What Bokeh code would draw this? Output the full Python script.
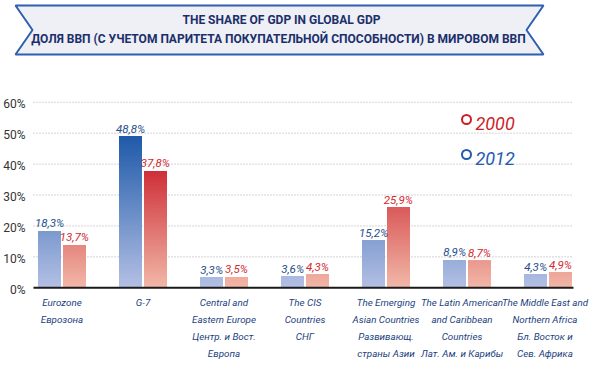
from bokeh.plotting import figure
from bokeh.models import ColumnDataSource, Range1d
from bokeh.core.properties import value
from bokeh.embed import file_html
from bokeh.resources import INLINE

# ---------------- data ----------------
categories = [
    "Eurozone\nЕврозона",
    "G-7",
    "Central and\nEastern Europe\nЦентр. и Вост.\nЕвропа",
    "The CIS\nCountries\nСНГ",
    "The Emerging\nAsian Countries\nРазвивающ.\nстраны Азии",
    "The Latin American\nand Caribbean\nCountries\nЛат. Ам. и Карибы",
    "The Middle East and\nNorthern Africa\nБл. Восток и\nСев. Африка",
]
share_blue = [18.3, 48.8, 3.3, 3.6, 15.2, 8.9, 4.3]   # legend: 2012
share_red = [13.7, 37.8, 3.5, 4.3, 25.9, 8.7, 4.9]    # legend: 2000
y_ticks = [0, 10, 20, 30, 40, 50, 60]
title_lines = ["THE SHARE OF GDP IN GLOBAL GDP",
               "ДОЛЯ ВВП (С УЧЕТОМ ПАРИТЕТА ПОКУПАТЕЛЬНОЙ СПОСОБНОСТИ) В МИРОВОМ ВВП"]
legend_labels = ["2000", "2012"]

# ---------------- style / layout ----------------
W, H = 590, 366
PX_PER_CAT = 81.0
CAT0_X = 61.5          # pixel centre of first category
ZERO_Y = 287.3         # pixel row of 0 %
PX_PER_PCT = 3.093
FONT = "Roboto"
BLUE_TXT = "#1f4e8c"
RED_TXT = "#d42a2e"
CAT_TXT = "#1c3f80"
TITLE_TXT = "#1b2f6b"
BLUE_LO, BLUE_HI, BLUE_SPAN = "#b4c0e4", "#1c58a8", 50.0
RED_LO, RED_HI, RED_SPAN = "#f2b8a8", "#cc2832", 40.0
OFF = 0.153
BW = 0.28
GRID_X0, GRID_X1 = 33, 573

x0 = -CAT0_X / PX_PER_CAT
x1 = x0 + W / PX_PER_CAT
y1 = ZERO_Y / PX_PER_PCT
y0 = y1 - H / PX_PER_PCT


def mix(c0, c1, t):
    t = max(0.0, min(1.0, t))
    a = [int(c0[i:i + 2], 16) for i in (1, 3, 5)]
    b = [int(c1[i:i + 2], 16) for i in (1, 3, 5)]
    return "#%02x%02x%02x" % tuple(round(x + (y - x) * t) for x, y in zip(a, b))


def gradient_slices(values, offset, lo, hi, span, step=0.25):
    xs, bots, tops, cols = [], [], [], []
    for i, v in enumerate(values):
        b = 0.0
        while b < v:
            xs.append(i + offset)
            bots.append(b)
            tops.append(v)
            cols.append(mix(lo, hi, (b + step / 2) / span))
            b += step
    return ColumnDataSource(dict(x=xs, bottom=bots, top=tops, color=cols))


p = figure(width=W, height=H, x_range=Range1d(x0, x1), y_range=Range1d(y0, y1),
           output_backend="svg", toolbar_location=None,
           x_axis_location=None, y_axis_location=None, min_border=0)
p.extra_x_ranges = {"px": Range1d(0, W)}
p.extra_y_ranges = {"px": Range1d(H, 0)}
p.grid.visible = False
p.outline_line_color = None

# banner (ribbon)
p.patch([15, 543, 526, 543, 15, 32], [5, 5, 29.5, 54, 54, 29.5],
        x_range_name="px", y_range_name="px",
        fill_color="#eef0f5", line_color="#2f5fb0", line_width=2)
p.text(x=[281, 278], y=[19.5, 38.5], text=title_lines, x_range_name="px", y_range_name="px",
       text_align="center", text_baseline="middle", text_font=value(FONT),
       text_font_style="bold", text_font_size="12px", text_color=TITLE_TXT)

# grid lines + y tick labels
p.segment(x0=[GRID_X0] * (len(y_ticks) - 1), x1=[GRID_X1] * (len(y_ticks) - 1),
          y0=y_ticks[1:], y1=y_ticks[1:], x_range_name="px",
          line_color="#a8a8a8", line_dash="1 2", line_width=1)
p.text(x=[25] * len(y_ticks), y=y_ticks, text=[f"{t}%" for t in y_ticks], x_range_name="px",
       y_offset=2, text_align="right", text_baseline="middle", text_font=value(FONT),
       text_font_size="12px", text_color="#333333")

# bars with vertical gradient
src_b = gradient_slices(share_blue, -OFF, BLUE_LO, BLUE_HI, BLUE_SPAN)
src_r = gradient_slices(share_red, OFF, RED_LO, RED_HI, RED_SPAN)
p.vbar(x="x", bottom="bottom", top="top", width=BW, fill_color="color", line_color=None, source=src_b)
p.vbar(x="x", bottom="bottom", top="top", width=BW, fill_color="color", line_color=None, source=src_r)

# baseline
p.segment(x0=[GRID_X0], x1=[GRID_X1], y0=[0], y1=[0], x_range_name="px",
          line_color="#1a1a1a", line_width=2)


def fmt(v):
    return f"{v:.1f}".replace(".", ",") + "%"


lab_b = ColumnDataSource(dict(x=[i - OFF for i in range(len(share_blue))], y=share_blue,
                              t=[fmt(v) for v in share_blue]))
lab_r = ColumnDataSource(dict(x=[i + OFF for i in range(len(share_red))], y=share_red,
                              t=[fmt(v) for v in share_red]))
for src, col in ((lab_b, BLUE_TXT), (lab_r, RED_TXT)):
    p.text(x="x", y="y", text="t", source=src, text_align="center", text_baseline="bottom",
           y_offset=-1, text_font=value(FONT), text_font_style="italic",
           text_font_size="11.5px", text_color=col)

cat_nudge = [0, 0, 0, 0, 0, -5, -3]
cat_src = ColumnDataSource(dict(x=list(range(len(categories))), t=categories, dx=cat_nudge))
p.text(x="x", y=-3.1, text="t", x_offset="dx", source=cat_src,
       text_align="center", text_baseline="top", text_font=value(FONT),
       text_font_style="italic", text_font_size="9.8px", text_color=CAT_TXT,
       text_line_height=1.54)

# legend
LEG_X = (466 - CAT0_X) / PX_PER_CAT
LEG_Y = [(ZERO_Y - 119) / PX_PER_PCT, (ZERO_Y - 154) / PX_PER_PCT]
leg_cols = ["#cc1f2a", "#1f5bb0"]
p.scatter(x=[LEG_X] * 2, y=LEG_Y, marker="circle", size=9, fill_color="white",
          line_color=leg_cols, line_width=2)
p.text(x=[LEG_X] * 2, y=LEG_Y, text=legend_labels, x_offset=9, y_offset=4,
       text_align="left", text_baseline="middle", text_font=value(FONT),
       text_font_style="italic", text_font_size="18px", text_color=leg_cols)

open("out.html", "w").write(file_html(p, INLINE))
